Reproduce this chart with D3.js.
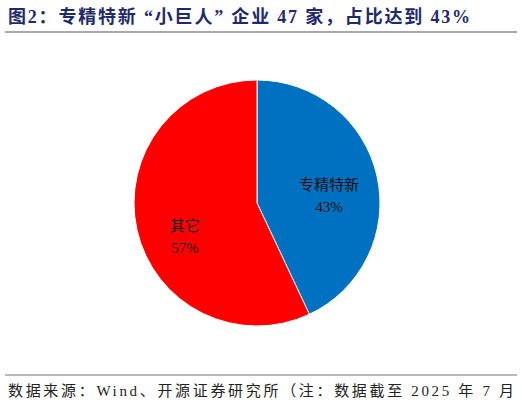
<!DOCTYPE html>
<html><head><meta charset="utf-8">
<script src="https://cdn.jsdelivr.net/npm/d3@7"></script>
<style>body{margin:0;background:#fff}</style></head>
<body><svg id="c" width="522" height="406"></svg>
<script>
const categories = ["专精特新", "其它"];
const values = [43, 57];
const labels = ["43%", "57%"];
const colors = ["#0070C0", "#FF0000"];

const svg = d3.select("#c");
const ff = "'Liberation Serif','Noto Sans CJK SC',serif";
svg.append("text").attr("x", 8).attr("y", 23).attr("fill", "#1F2A6B")
  .attr("font-family", ff).attr("font-weight", "bold").attr("font-size", 18)
  .attr("textLength", 462).attr("lengthAdjust", "spacing")
  .text("图2：专精特新 “小巨人” 企业 47 家，占比达到 43%");
svg.append("line").attr("x1", 5).attr("x2", 517).attr("y1", 32).attr("y2", 32)
  .attr("stroke", "#555").attr("stroke-width", 1.2);
svg.append("line").attr("x1", 5).attr("x2", 517).attr("y1", 375).attr("y2", 375)
  .attr("stroke", "#777").attr("stroke-width", 1.2);
svg.append("text").attr("x", 8).attr("y", 396).attr("fill", "#222")
  .attr("font-family", ff).attr("font-size", 15)
  .attr("textLength", 506).attr("lengthAdjust", "spacing")
  .text("数据来源：Wind、开源证券研究所（注：数据截至 2025 年 7 月");

const cx = 257, cy = 203, r = 123;
const pie = d3.pie().sort(null).value(d => d)(values);
const arc = d3.arc().innerRadius(0).outerRadius(r);
const g = svg.append("g").attr("transform", `translate(${cx},${cy})`);
g.selectAll("path").data(pie).join("path").attr("d", arc)
  .attr("fill", (d, i) => colors[i]).attr("stroke", "#fff").attr("stroke-width", 1);
const la = d3.arc().innerRadius(r * 0.6).outerRadius(r * 0.6);
pie.forEach((d, i) => {
  const [x, y] = la.centroid(d);
  const dy = i === 0 ? 3 : 12;
  const t = g.append("text").attr("text-anchor", "middle").attr("fill", "#111")
    .attr("font-family", ff).attr("font-size", 15);
  t.append("tspan").attr("x", x).attr("y", y + dy).text(categories[i]);
  t.append("tspan").attr("x", x).attr("y", y + dy + 22).text(labels[i]);
});
</script></body></html>
